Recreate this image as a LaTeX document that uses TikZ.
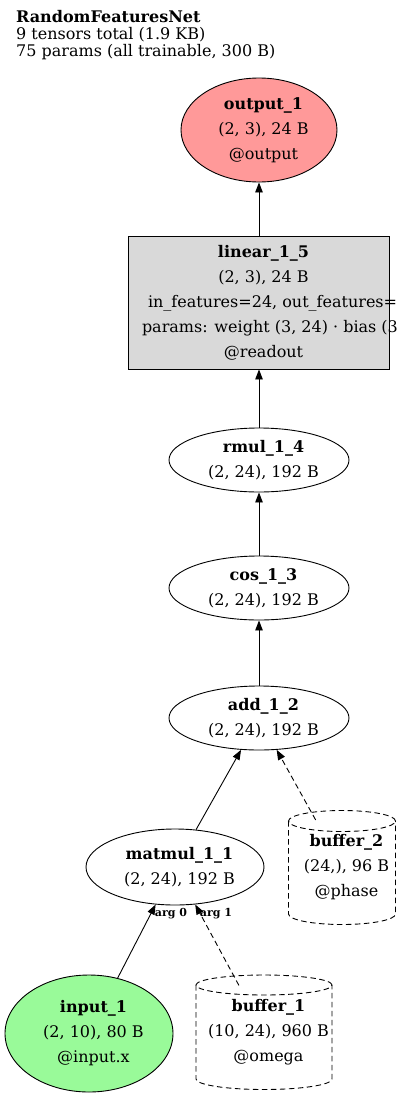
\documentclass[tikz,border=0pt]{standalone}
\usepackage{fontspec}
\setmainfont{DejaVu Serif}
\usetikzlibrary{shapes.geometric,arrows.meta}
\definecolor{outred}{RGB}{255,153,153}
\definecolor{ingreen}{RGB}{153,250,153}
\definecolor{boxgray}{RGB}{217,217,217}
\newcommand{\sh}[1]{\hspace*{9pt}#1}
\tikzset{
  base/.style={draw, inner sep=0pt, align=center, line width=0.9pt,
    font=\fontsize{16}{25}\selectfont},
  oval/.style={base, ellipse},
  txt/.style={inner sep=0pt, align=center, font=\fontsize{16}{25}\selectfont},
  dsh/.style={dash pattern=on 5.5pt off 3.5pt},
  canline/.style={line width=0.9pt, dsh},
  ar/.style={-{Triangle[length=10pt,width=7.5pt]}, line width=0.9pt},
  lab/.style={inner sep=0pt, font=\fontsize{11}{12}\selectfont\bfseries}
}
\begin{document}
\begin{tikzpicture}[x=1pt,y=-1pt]
\useasboundingbox (0,0) rectangle (400,1098);
\clip (0,0) rectangle (400,1098);
\fill[white] (0,0) rectangle (400,1098);

\node[anchor=north west, align=left, inner sep=0pt,
  font=\fontsize{16}{17}\selectfont] (title) at (16,10)
  {\textbf{RandomFeaturesNet}\\9 tensors total (1.9 KB)\\75 params (all trainable, 300 B)};

\node[oval, fill=outred, minimum width=156pt, minimum height=104pt] (out) at (259,130)
  {\sh{\textbf{output\_1}}\\\sh{(2, 3), 24 B}\\\sh{@output}};

\node[base, rectangle, fill=boxgray, minimum width=261pt, minimum height=133pt] (lin) at (259,302.5)
  {\sh{\textbf{linear\_1\_5}}\\\sh{(2, 3), 24 B}\\
   \makebox[0pt][l]{\hspace*{-111pt}in\_features=24, out\_features=}\\
   \makebox[0pt][l]{\hspace*{-117pt}params: weight (3, 24) · bias (3}\\
   \sh{@readout}};

\node[oval, minimum width=180pt, minimum height=64pt] (rmul) at (259,460)
  {\sh{\textbf{rmul\_1\_4}}\\\sh{(2, 24), 192 B}};
\node[oval, minimum width=180pt, minimum height=64pt] (cos) at (259,588)
  {\sh{\textbf{cos\_1\_3}}\\\sh{(2, 24), 192 B}};
\node[oval, minimum width=180pt, minimum height=64pt] (add) at (259,718)
  {\sh{\textbf{add\_1\_2}}\\\sh{(2, 24), 192 B}};
\node[oval, minimum width=178pt, minimum height=76pt] (mm) at (175,867)
  {\sh{\textbf{matmul\_1\_1}}\\\sh{(2, 24), 192 B}};

% buffer_2 cylinder
\draw[canline] (288.5,821) -- (288.5,914) arc[start angle=180, end angle=360, x radius=53.5pt, y radius=10.5pt] -- (395.5,821);
\draw[canline] (342,821) ellipse [x radius=53.5pt, y radius=10.5pt];
\node[txt, minimum width=107pt, minimum height=114pt] (buf2) at (342,867.5)
  {\sh{\textbf{buffer\_2}}\\\sh{(24,), 96 B}\\\sh{@phase}};

\node[oval, fill=ingreen, minimum width=168pt, minimum height=117pt] (in) at (89,1033.5)
  {\sh{\textbf{input\_1}}\\\sh{(2, 10), 80 B}\\\sh{@input.x}};

% buffer_1 cylinder
\draw[canline] (196,985) -- (196,1079) arc[start angle=180, end angle=360, x radius=68pt, y radius=10.5pt] -- (332,985);
\draw[canline] (264,985) ellipse [x radius=68pt, y radius=10pt];
\node[txt, minimum width=136pt, minimum height=114pt] (buf1) at (264,1032)
  {\sh{\textbf{buffer\_1}}\\\sh{(10, 24), 960 B}\\\sh{@omega}};

\draw[ar] (lin) -- (out);
\draw[ar] (rmul) -- (lin);
\draw[ar] (cos) -- (rmul);
\draw[ar] (add) -- (cos);
\draw[ar] (mm) -- (add);
\draw[ar, dsh, shorten <=-11pt] (buf2) -- (add);
\draw[ar] (in) -- (mm);
\draw[ar, dsh, shorten <=-12pt] (buf1) -- (mm);

\node[lab] (l0) at (171,914) {arg 0};
\node[lab] (l1) at (216,914) {arg 1};
\end{tikzpicture}
\end{document}
